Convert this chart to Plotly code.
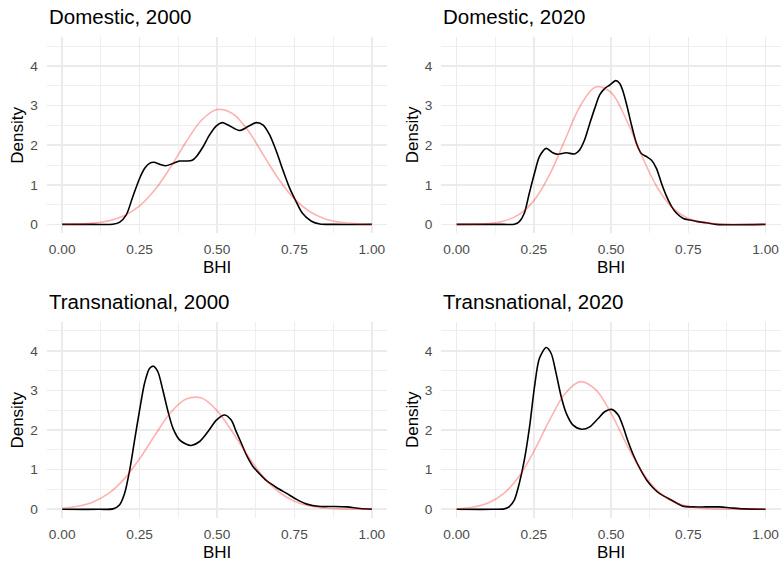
import plotly.graph_objects as go

# ---------------- data ----------------
panel_titles = ["Domestic, 2000", "Domestic, 2020", "Transnational, 2000", "Transnational, 2020"]

grid_x = [0.00, 0.05, 0.10, 0.15, 0.20, 0.25, 0.30, 0.35, 0.40, 0.45, 0.50,
          0.55, 0.60, 0.65, 0.70, 0.75, 0.80, 0.85, 0.90, 0.95, 1.00]

# pink reference curves (values at grid_x)
dom2000_ref = [0.003, 0.010, 0.032, 0.089, 0.218, 0.468, 0.879, 1.446, 2.08, 2.63, 2.90,
               2.80, 2.37, 1.75, 1.135, 0.643, 0.319, 0.139, 0.053, 0.018, 0.005]
dom2020_ref = [0.001, 0.005, 0.021, 0.079, 0.239, 0.60, 1.243, 2.12, 2.99, 3.47, 3.33,
               2.63, 1.72, 0.925, 0.41, 0.150, 0.046, 0.011, 0.002, 0.0004, 0.0001]
tra2000_ref = [0.027, 0.076, 0.186, 0.40, 0.761, 1.273, 1.875, 2.434, 2.78, 2.805, 2.49,
               1.948, 1.343, 0.816, 0.436, 0.205, 0.085, 0.031, 0.010, 0.003, 0.001]
tra2020_ref = [0.015, 0.052, 0.153, 0.382, 0.81, 1.46, 2.235, 2.91, 3.22, 3.02, 2.42,
               1.64, 0.947, 0.465, 0.194, 0.069, 0.021, 0.005, 0.001, 0.0002, 0.0]

# black density curves
dom2000_x = [0.0, 0.10, 0.164, 0.185, 0.207, 0.228, 0.25, 0.266, 0.282, 0.296, 0.315, 0.334,
             0.358, 0.379, 0.401, 0.42, 0.433, 0.455, 0.476, 0.498, 0.517, 0.536, 0.573,
             0.60, 0.627, 0.649, 0.67, 0.692, 0.713, 0.735, 0.756, 0.776, 0.805, 0.832, 0.88, 1.0]
dom2000_y = [0.0, 0.0, 0.005, 0.05, 0.24, 0.70, 1.16, 1.41, 1.54, 1.57, 1.52, 1.48,
             1.54, 1.60, 1.60, 1.62, 1.71, 1.96, 2.26, 2.49, 2.57, 2.51, 2.37,
             2.47, 2.57, 2.51, 2.26, 1.84, 1.37, 0.91, 0.57, 0.28, 0.08, 0.01, 0.0, 0.0]

dom2020_x = [0.0, 0.15, 0.187, 0.203, 0.219, 0.235, 0.252, 0.268, 0.29, 0.311, 0.328, 0.355,
             0.382, 0.398, 0.414, 0.431, 0.447, 0.463, 0.479, 0.496, 0.515, 0.528, 0.539,
             0.552, 0.566, 0.582, 0.598, 0.615, 0.631, 0.647, 0.663, 0.68, 0.696, 0.712,
             0.734, 0.756, 0.78, 0.808, 0.84, 1.0]
dom2020_y = [0.0, 0.0, 0.005, 0.07, 0.28, 0.78, 1.29, 1.71, 1.92, 1.81, 1.77, 1.81,
             1.78, 1.88, 2.13, 2.55, 2.93, 3.27, 3.43, 3.52, 3.63, 3.56, 3.35,
             2.97, 2.51, 2.05, 1.79, 1.71, 1.62, 1.41, 1.04, 0.70, 0.45, 0.28,
             0.15, 0.11, 0.07, 0.04, 0.0, 0.0]

tra2000_x = [0.0, 0.12, 0.164, 0.185, 0.2015, 0.218, 0.234, 0.25, 0.266, 0.282, 0.295, 0.309,
             0.325, 0.342, 0.358, 0.379, 0.401, 0.417, 0.444, 0.471, 0.498, 0.525, 0.546,
             0.562, 0.579, 0.595, 0.616, 0.638, 0.66, 0.692, 0.725, 0.757, 0.79, 0.833,
             0.876, 0.919, 0.962, 1.0]
tra2000_y = [0.0, 0.0, 0.01, 0.11, 0.40, 0.99, 1.75, 2.50, 3.18, 3.55, 3.61, 3.47,
             3.01, 2.46, 2.04, 1.75, 1.64, 1.61, 1.71, 1.96, 2.25, 2.38, 2.25,
             1.96, 1.66, 1.37, 1.08, 0.89, 0.72, 0.55, 0.40, 0.25, 0.13, 0.07,
             0.07, 0.06, 0.02, 0.005]

tra2020_x = [0.0, 0.12, 0.154, 0.1705, 0.187, 0.203, 0.219, 0.236, 0.252, 0.268, 0.29, 0.306,
             0.322, 0.3385, 0.355, 0.376, 0.404, 0.431, 0.458, 0.479, 0.501, 0.523, 0.539,
             0.555, 0.572, 0.593, 0.615, 0.635, 0.65, 0.667, 0.684, 0.70, 0.716, 0.732,
             0.765, 0.808, 0.851, 0.883, 0.927, 1.0]
tra2020_y = [0.0, 0.0, 0.01, 0.07, 0.24, 0.66, 1.24, 2.08, 3.09, 3.81, 4.08, 3.93,
             3.43, 2.84, 2.42, 2.13, 2.02, 2.08, 2.29, 2.46, 2.52, 2.38, 2.08,
             1.71, 1.37, 1.03, 0.74, 0.55, 0.44, 0.35, 0.28, 0.21, 0.14, 0.08,
             0.06, 0.06, 0.06, 0.04, 0.01, 0.0]

x_tickvals = [0.00, 0.25, 0.50, 0.75, 1.00]
x_ticktext = ["0.00", "0.25", "0.50", "0.75", "1.00"]
y_tickvals = [0, 1, 2, 3, 4]
y_ticktext = ["0", "1", "2", "3", "4"]

# ---------------- layout geometry ----------------
W, H = 781, 562
col_px = [(46.7, 387.3), (441.2, 781.0)]
row_px = [(37.3, 233.3), (322.0, 518.2)]

FONT = "Liberation Sans, Arial, Helvetica, sans-serif"
GRID = "#EBEBEB"

fig = go.Figure()

panels = [
    (dom2000_x, dom2000_y, dom2000_ref),
    (dom2020_x, dom2020_y, dom2020_ref),
    (tra2000_x, tra2000_y, tra2000_ref),
    (tra2020_x, tra2020_y, tra2020_ref),
]

annotations = []
for i, (bx, by, ref) in enumerate(panels):
    r, c = divmod(i, 2)
    idx = "" if i == 0 else str(i + 1)
    xa, ya = "x" + idx, "y" + idx
    fig.add_trace(go.Scatter(x=bx, y=by, mode="lines", xaxis=xa, yaxis=ya,
                             line=dict(color="black", width=1.6, shape="spline", smoothing=0.8),
                             showlegend=False, hoverinfo="skip"))
    fig.add_trace(go.Scatter(x=grid_x, y=ref, mode="lines", xaxis=xa, yaxis=ya,
                             line=dict(color="rgba(255,0,0,0.3)", width=1.6, shape="spline", smoothing=1.0),
                             showlegend=False, hoverinfo="skip"))
    x0, x1 = col_px[c]
    y0, y1 = row_px[r]
    fig.layout["xaxis" + idx] = dict(
        domain=[x0 / W, x1 / W], range=[-0.05, 1.05], anchor=ya,
        tickvals=x_tickvals, ticktext=x_ticktext,
        showgrid=True, gridcolor=GRID, gridwidth=1.6, zeroline=False, showline=False,
        ticks="outside", ticklen=3, tickcolor="rgba(0,0,0,0)",
        tickfont=dict(family=FONT, size=13.7, color="#4D4D4D"),
        minor=dict(tickvals=[0.125, 0.375, 0.625, 0.875], showgrid=True, gridcolor=GRID, gridwidth=0.8),
        fixedrange=True)
    fig.layout["yaxis" + idx] = dict(
        domain=[1 - y1 / H, 1 - y0 / H], range=[-0.225, 4.725], anchor=xa,
        tickvals=y_tickvals, ticktext=y_ticktext,
        showgrid=True, gridcolor=GRID, gridwidth=1.6, zeroline=False, showline=False,
        ticks="outside", ticklen=5, tickcolor="rgba(0,0,0,0)",
        tickfont=dict(family=FONT, size=13.7, color="#4D4D4D"),
        minor=dict(tickvals=[0.5, 1.5, 2.5, 3.5, 4.5], showgrid=True, gridcolor=GRID, gridwidth=0.8),
        fixedrange=True)
    # panel title
    annotations.append(dict(text=panel_titles[i], xref="paper", yref="paper",
                            x=x0 / W, y=1 - (y0 - 20.5) / H, xanchor="left", yanchor="middle",
                            showarrow=False, font=dict(family=FONT, size=20.5, color="black")))
    # x axis title
    annotations.append(dict(text="BHI", xref="paper", yref="paper",
                            x=((x0 + x1) / 2) / W, y=1 - (y1 + 34.2) / H,
                            xanchor="center", yanchor="middle", showarrow=False,
                            font=dict(family=FONT, size=17, color="black")))
    # y axis title
    annotations.append(dict(text="Density", xref="paper", yref="paper",
                            x=(x0 - 29.2) / W, y=1 - ((y0 + y1) / 2) / H,
                            xanchor="center", yanchor="middle", textangle=-90, showarrow=False,
                            font=dict(family=FONT, size=17, color="black")))

fig.update_layout(width=W, height=H, autosize=False,
                  margin=dict(l=0, r=0, t=0, b=0),
                  paper_bgcolor="white", plot_bgcolor="white",
                  hovermode=False,
                  annotations=annotations)

fig.write_html("out.html",
               config={"displayModeBar": False, "staticPlot": True},
               post_script="document.body.style.margin='0px';document.body.style.overflow='hidden';")
